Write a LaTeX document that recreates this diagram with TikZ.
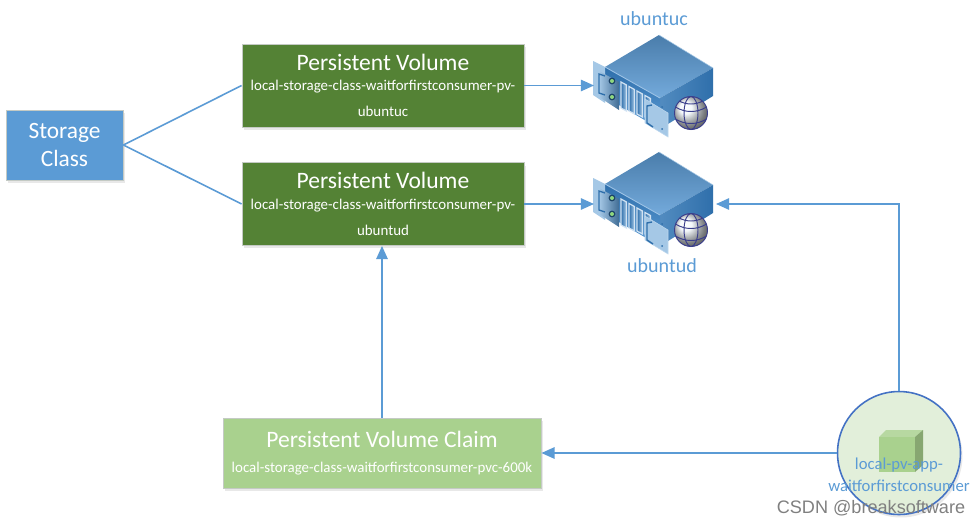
\documentclass[tikz,border=0pt]{standalone}
\usepackage{fontspec}
\setmainfont{Carlito}
\newfontfamily\wmfont{Liberation Sans}
\usetikzlibrary{arrows.meta,shadows}
\definecolor{pvgreen}{HTML}{548235}
\definecolor{scblue}{HTML}{5B9BD5}
\definecolor{claimgreen}{HTML}{A9D18E}
\definecolor{appgreen}{HTML}{E2EFDA}
\definecolor{appedge}{HTML}{4472C4}
\definecolor{boxedge}{HTML}{C4CAC4}
\definecolor{rackdark}{HTML}{2F6FAB}
\definecolor{racktop}{HTML}{4A7DAB}
\definecolor{racklight}{HTML}{A5C8E6}
\definecolor{lampgreen}{HTML}{8FD87F}
\definecolor{globeline}{HTML}{3B3F8C}
\tikzset{
  softshadow/.style={drop shadow={shadow xshift=0.4mm,shadow yshift=-0.6mm,opacity=0.18}},
  box/.style={draw=boxedge, line width=0.5pt, text=white, align=center, inner sep=0pt, softshadow},
  pvbox/.style={box, fill=pvgreen, minimum width=5.64cm, minimum height=1.66cm},
  link/.style={draw=scblue, line width=0.9pt},
  hostlabel/.style={text=scblue, font=\fontsize{11.4}{13}\selectfont},
  pics/server/.style={code={
    % cabinet body
    \path[top color=racktop, bottom color=scblue!85!white]
      (0,0) -- (54,33) -- (1,63) -- (-54,32) -- cycle;
    \path[left color=scblue!90!black, right color=rackdark]
      (1,63) -- (54,33) -- (54,61) -- (1,94) -- cycle;
    \path[top color=rackdark, bottom color=scblue]
      (-54,32) -- (1,63) -- (1,94) -- (-54,62) -- cycle;
    \draw[racklight, line width=0.3pt] (0,0) -- (54,33);
    \draw[scblue!60!white, line width=0.5pt] (-54,32) -- (1,63);
    % left mounting ear and lamp panel
    \path[fill=racklight]
      (-66,26) -- (-54,32) -- (-54,68) -- (-66,60) -- cycle;
    \path[left color=racklight, right color=scblue!70!black]
      (-60,36) -- (-40,47) -- (-40,75) -- (-60,62) -- cycle;
    \draw[rackdark, line width=0.8pt] (-54,41) -- (-60,39) -- (-60,58) -- (-54,60);
    \foreach \ly in {46,62} {
      \fill[rackdark!60!black] (-47,\ly) circle (3.4);
      \fill[lampgreen] (-47,\ly) circle (2);
    }
    % drive bays
    \foreach \i in {0,1,2,3}
      \draw[racklight!50!white, left color=rackdark, right color=racklight, line width=0.7pt]
        ({-38+8*\i},{47+4.5*\i}) -- ({-32.5+8*\i},{50+4.5*\i})
        -- ({-32.5+8*\i},{76+3*\i}) -- ({-38+8*\i},{73+3*\i}) -- cycle;
    % right mounting ear
    \path[fill=racklight, draw=white!60!scblue, line width=0.3pt]
      (-14,64) -- (9,78) -- (9,102) -- (-14,88) -- cycle;
    \draw[rackdark, line width=0.8pt] (-7,70) -- (-12,71) -- (-12,88) -- (-6,92);
    \fill[rackdark] (3,72) circle (1) (3,94) circle (1);
    % globe
    \shade[ball color=white!92!scblue] (32,78) circle (16.5);
    \draw[globeline, line width=0.55pt] (32,78) circle (16.5)
      (32,78) ellipse (7 and 16.5)
      (16.5,72) .. controls (26,78) and (38,78) .. (47.5,72)
      (16.5,84) .. controls (26,90) and (38,90) .. (47.5,84)
      (20,66) .. controls (28,70) and (36,70) .. (44,66);
  }}
}
\newcommand{\titlefont}{\fontsize{13.4}{15}\selectfont}
\newcommand{\subfont}{\fontsize{8.5}{10}\selectfont}
\begin{document}
\begin{tikzpicture}[x=0.02cm, y=-0.02cm, >={Triangle[length=7.5pt,width=6.5pt]}]
    \useasboundingbox[fill=white] (0,0) rectangle (980,524);

    % store and volumes
    \node[box, fill=scblue, minimum width=2.34cm, minimum height=1.4cm, font=\fontsize{13.3}{16}\selectfont] (sc) at (64.5,145)
      {Storage\\ Class};
    \foreach \name/\host/\ypos in {pvc/ubuntuc/85.5, pvd/ubuntud/204}
      \node[pvbox] (\name) at (383,\ypos)
        {{\titlefont Persistent Volume}\\[-0.4pt]
         {\subfont local-storage-class-waitforfirstconsumer-pv-}\\[3pt]
         {\subfont \host}};
    \node[box, fill=claimgreen, minimum width=6.36cm, minimum height=1.4cm] (claim) at (382,453)
      {{\titlefont Persistent Volume Claim}\\[2pt]
       {\subfont local-storage-class-waitforfirstconsumer-pvc-600k}};

    % hosts
    \pic at (659,35) {server};
    \pic at (659,152) {server};
    \node[hostlabel] (hostc) at (654,19) {ubuntuc};
    \node[hostlabel] (hostd) at (662,266) {ubuntud};
    \coordinate (hostcin) at (594,85.5);
    \coordinate (hostdin) at (594,204);
    \coordinate (hostdapp) at (716,204);

    % application pod
    \node[circle, draw=appedge, fill=appgreen, line width=0.9pt, minimum size=2.46cm, inner sep=0pt, softshadow] (app) at (899,453) {};
    \fill[claimgreen!75!appgreen] (879,437) -- (886,430) -- (923,430) -- (915,437) -- cycle;
    \fill[claimgreen!80!black] (915,437) -- (923,430) -- (923,465) -- (915,472) -- cycle;
    \fill[claimgreen] (879,437) rectangle (915,472);
    \node[text=scblue, font=\fontsize{9.5}{12.5}\selectfont, align=center] (applabel) at (899,475)
      {local-pv-app-\\ waitforfirstconsumer};

    % connectors
    \draw[link] (sc.east) -- (pvc.west);
    \draw[link] (sc.east) -- (pvd.west);
    \draw[link, ->] (pvc.east) -- (hostcin);
    \draw[link, ->] (pvd.east) -- (hostdin);
    \draw[link, ->] (claim.north) -- (pvd.south -| claim.north);
    \draw[link, ->] (app.west) -- (claim.east);
    \draw[link, ->] (app.north) |- (hostdapp);

    \node[text=black!50, font=\wmfont\fontsize{10.3}{12}\selectfont] (mark) at (871,508) {CSDN @breaksoftware};
\end{tikzpicture}
\end{document}
